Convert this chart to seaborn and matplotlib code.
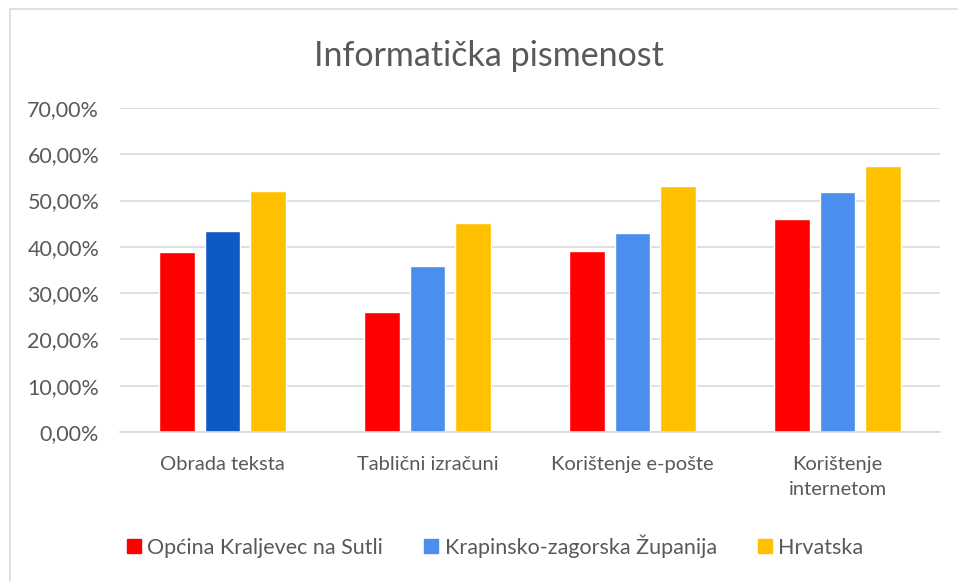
import matplotlib
matplotlib.use("Agg")
import matplotlib.pyplot as plt
import matplotlib.patches as mpatches
import seaborn as sns
import pandas as pd

# Chart data
categories = ["Obrada teksta", "Tablični izračuni", "Korištenje e-pošte", "Korištenje\ninternetom"]
series_names = ["Općina Kraljevec na Sutli", "Krapinsko-zagorska Županija", "Hrvatska"]
kraljevec = [38.9, 25.9, 39.0, 46.0]
zagorje = [43.4, 35.8, 42.9, 51.8]
hrvatska = [52.1, 45.1, 53.2, 57.5]
y_ticks = [0, 10, 20, 30, 40, 50, 60, 70]
y_tick_labels = ["0,00%", "10,00%", "20,00%", "30,00%", "40,00%", "50,00%", "60,00%", "70,00%"]

colors = ["#FF0000", "#4A8FEE", "#FFC000"]
first_blue = "#0F59C4"
text_color = "#595959"
grid_color = "#D9D9D9"

# long format for seaborn
rows = []
for name, vals in zip(series_names, [kraljevec, zagorje, hrvatska]):
    for cat, v in zip(categories, vals):
        rows.append({"category": cat, "series": name, "value": v})
df = pd.DataFrame(rows)

sns.set_theme(style="white")
plt.rcParams["font.family"] = ["Lato", "DejaVu Sans"]

fig = plt.figure(figsize=(9.58, 5.81), dpi=100)
ax = fig.add_axes([120 / 958, 1 - 432 / 581, 820 / 958, 324 / 581])

sns.barplot(data=df, x="category", y="value", hue="series", order=categories,
            hue_order=series_names, palette=colors, width=0.664, gap=0.21,
            saturation=1, legend=False, ax=ax)

# first blue bar is a darker shade in the original
blue_bars = [p for p in ax.patches if p.get_facecolor()[:3] == matplotlib.colors.to_rgb(colors[1])]
if blue_bars:
    first = min(blue_bars, key=lambda p: p.get_x())
    first.set_facecolor(first_blue)

ax.set_ylim(0, 70)
ax.set_xlim(-0.5, len(categories) - 0.5)
ax.set_yticks(y_ticks)
ax.set_yticklabels(y_tick_labels, fontsize=15.5, color=text_color)
ax.tick_params(axis="x", labelsize=14.5, labelcolor=text_color, pad=17, length=0)
ax.tick_params(axis="y", length=0, pad=15)
for lbl in ax.get_xticklabels():
    lbl.set_linespacing(1.6)
ax.set_xlabel("")
ax.set_ylabel("")
ax.yaxis.grid(True, color=grid_color, linewidth=1.2)
ax.set_axisbelow(True)
for side in ["top", "right", "left"]:
    ax.spines[side].set_visible(False)
ax.spines["bottom"].set_color(grid_color)
ax.spines["bottom"].set_linewidth(1.2)

fig.suptitle("Informatička pismenost", x=489 / 958, y=1 - 56 / 581, va="center",
             fontsize=24.5, color=text_color)

handles = [mpatches.Patch(color=c, label=n) for c, n in zip(colors, series_names)]
fig.legend(handles=handles, loc="center", bbox_to_anchor=(495 / 958, 1 - 546 / 581),
           ncol=3, frameon=False, fontsize=15.5, labelcolor=text_color,
           handlelength=0.65, handleheight=0.65, handletextpad=0.3, columnspacing=1.9)

# outer chart frame
fig.patches.append(mpatches.Rectangle((10 / 958, -0.1), 1.2, 1 - 9 / 581 + 0.1,
                                      transform=fig.transFigure, fill=False,
                                      edgecolor="#D9D9D9", linewidth=1.2))

fig.savefig("out.png", dpi=100)
